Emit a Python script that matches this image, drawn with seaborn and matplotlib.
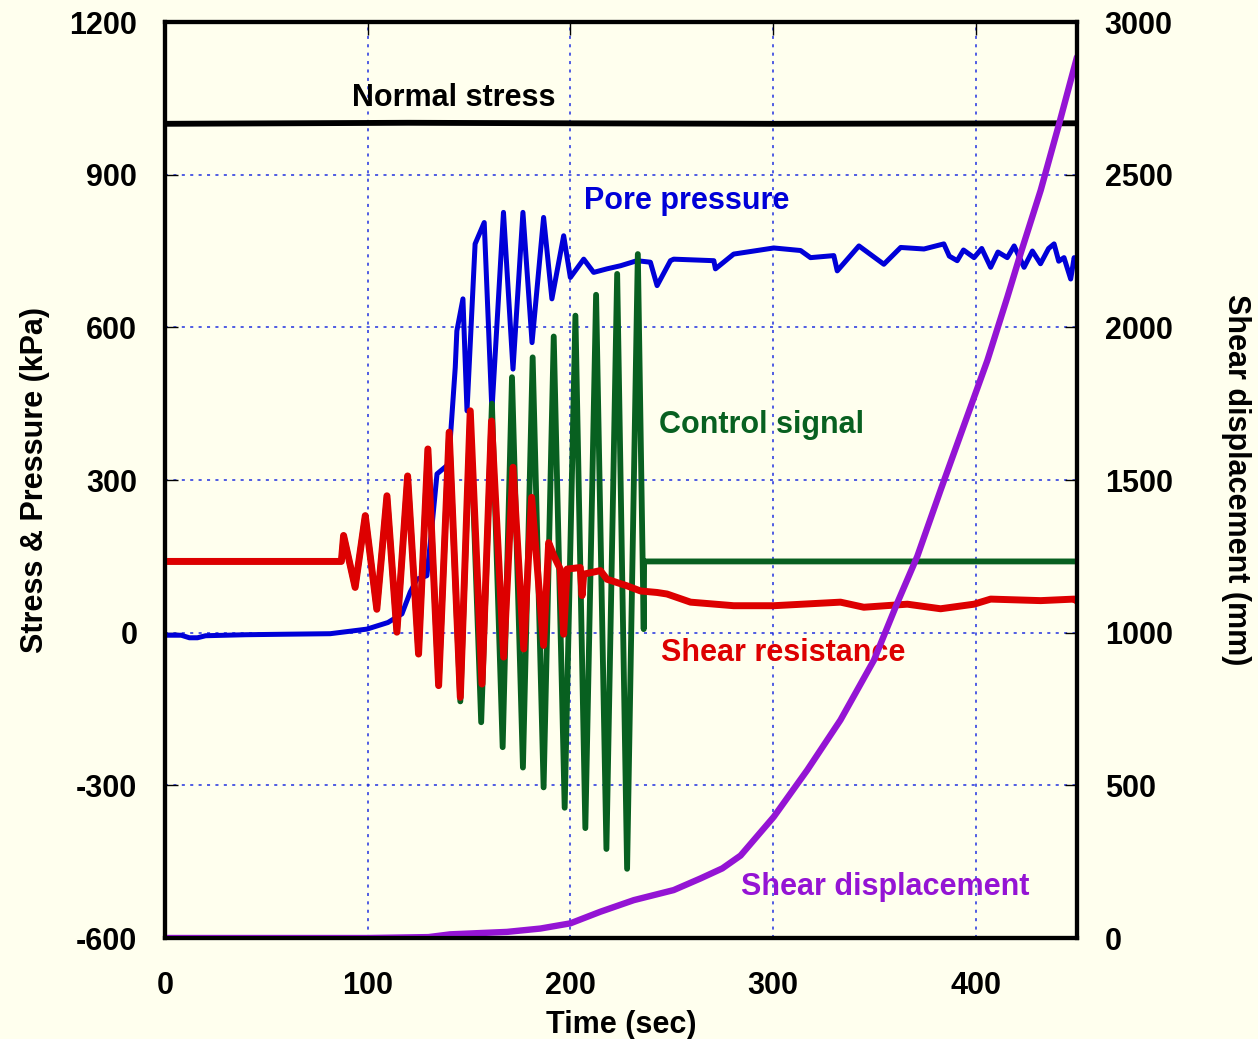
import matplotlib
matplotlib.use('Agg')
import matplotlib.pyplot as plt
import seaborn as sns

# values
normal_t = [0, 60, 120, 200, 300, 450]
normal_v = [1000, 1001, 1002, 1001, 1000, 1001]

pore_t = [0, 8, 12, 16, 20, 40, 60, 81.5, 99.6, 110, 116.9, 121, 124.3, 129.2, 131.5, 134.2,
          139.9, 143.2, 144, 147, 149, 153, 157.5, 161.3, 167, 171.7, 176.6, 181.1, 186.8,
          190.9, 196.7, 200, 206.6, 211.5, 218.1, 224.7, 232.9, 239.5, 242.8, 249.4,
          251, 270.8, 271.6, 280.6, 300.4, 313.6, 318.5, 330, 331.7, 342.4, 354.7, 363,
          374.5, 384.3, 387, 390.9, 394, 399.2, 403, 407.4, 411, 415.6, 419, 423.9, 428,
          432, 436, 438.7, 441, 443.6, 446.9, 448.6, 450]
pore_v = [-5, -5, -10, -10, -6, -4, -3, -2, 7, 20, 37, 80, 105, 112, 200, 312,
          331, 521, 593, 656, 436, 764, 806, 436, 826, 518, 826, 570, 816,
          656, 780, 698, 734, 708, 715, 721, 731, 728, 682, 731,
          734, 731, 715, 744, 756, 751, 737, 741, 711, 760, 724, 757,
          754, 764, 740, 731, 752, 737, 755, 718, 748, 737, 760, 718, 750,
          725, 755, 764, 730, 737, 695, 737, 720]

control_t = [0, 87, 88.1, 93.8, 98.8, 104.5, 109.5, 114.4, 119.7, 125.1, 129.7, 135, 140.2,
             145.7, 150.6, 156, 161.3, 166.6, 171.2, 176.6, 181.4, 186.8, 191.8, 197.2,
             202.5, 207.4, 212.7, 217.8, 223.1, 228, 233.3, 236.2, 236.4, 450]
control_v = [140, 140, 191, 89, 230, 46, 269, 1, 308, -42, 361, -104, 394,
             -135, 430, -176, 450, -225, 502, -265, 541, -304, 582, -344,
             623, -384, 664, -425, 705, -464, 744, 7, 140, 140]

shear_t = [0, 87, 88.1, 93.8, 98.8, 104.5, 109.5, 114.4, 119.7, 125.1, 129.7, 135, 140.2,
           145.7, 150.6, 156.4, 161.1, 167.1, 171.7, 177, 180.9, 186.8, 189.3, 192, 195,
           196.7, 198.4, 204.9, 205.8, 206.6, 214.8, 218.1, 228, 234.6, 242.8, 247.7, 259.3,
           280.6, 300.4, 333.3, 344.8, 366.3, 382.7, 399.2, 407.4, 432.1, 448.6, 450]
shear_v = [140, 140, 191, 89, 230, 46, 269, 1, 308, -42, 361, -104, 394,
           -127, 436, -101, 416, -48, 325, -32, 266, -25, 177, 150, 125,
           -3, 125, 128, 73, 115, 122, 105, 92, 82, 79, 76, 60,
           53, 53, 60, 50, 56, 47, 56, 66, 63, 66, 62]

disp_t = [0, 100, 130, 140.7, 168.7, 185.2, 200, 214.8, 231.3, 251, 264.2, 275, 284, 300.4,
          316.9, 333.3, 349.8, 361.3, 371.2, 382.7, 405.8, 415.6, 422.2, 432.1, 441, 449.4, 450]
disp_v = [0, 0, 3, 12, 20, 31, 48, 86, 124, 157, 195, 228, 270, 397,
          550, 714, 910, 1097, 1250, 1467, 1892, 2098, 2242, 2449, 2662, 2870, 2885]

x_ticks = [0, 100, 200, 300, 400]
left_ticks = [-600, -300, 0, 300, 600, 900, 1200]
right_ticks = [0, 500, 1000, 1500, 2000, 2500, 3000]

BG = '#FFFFEE'
BLUE = '#0000D8'
GREEN = '#086020'
RED = '#DD0000'
PURPLE = '#9414D4'
GRID = '#2030E0'

sns.set_style('white')
plt.rcParams['font.family'] = ['Liberation Sans', 'DejaVu Sans']
plt.rcParams['font.weight'] = 'bold'
plt.rcParams['font.size'] = 22
plt.rcParams['axes.unicode_minus'] = False
for key in ('text.color', 'axes.labelcolor', 'xtick.color', 'ytick.color'):
    plt.rcParams[key] = 'black'

fig = plt.figure(figsize=(12.58, 10.39), dpi=100, facecolor=BG)
ax = fig.add_axes([0.1312, 0.0972, 0.7249, 0.8816])
ax.set_facecolor(BG)
ax.set_axisbelow(True)

line_kw = dict(sort=False, estimator=None, solid_joinstyle='round', solid_capstyle='round')
sns.lineplot(x=pore_t, y=pore_v, ax=ax, color=BLUE, linewidth=3.6, zorder=2, **line_kw)
sns.lineplot(x=control_t, y=control_v, ax=ax, color=GREEN, linewidth=4.2, zorder=3, **line_kw)
sns.lineplot(x=shear_t, y=shear_v, ax=ax, color=RED, linewidth=5.0, zorder=4, **line_kw)
sns.lineplot(x=normal_t, y=normal_v, ax=ax, color='black', linewidth=4.2, zorder=5, **line_kw)

ax.set_xlim(0, 450)
ax.set_ylim(-600, 1200)
ax.set_xticks(x_ticks)
ax.set_yticks(left_ticks)
ax.grid(True, color=GRID, linestyle=(0, (2, 3.5)), linewidth=1.1)
ax.tick_params(direction='in', length=9, width=1, top=True, pad=20, labelsize=22)
ax.tick_params(axis='x', pad=24)
ax.set_xlabel('Time (sec)', fontsize=22, fontweight='bold', labelpad=6)
ax.set_ylabel('Stress & Pressure (kPa)', fontsize=22, fontweight='bold', labelpad=14)

ax2 = ax.twinx()
sns.lineplot(x=disp_t, y=disp_v, ax=ax2, color=PURPLE, linewidth=4.6, **line_kw)
ax2.set_ylim(0, 3000)
ax2.set_yticks(right_ticks)
ax2.tick_params(direction='in', length=9, width=1, pad=20, labelsize=22)
ax2.set_ylabel('Shear displacement (mm)', fontsize=22, fontweight='bold', rotation=270, labelpad=56)

for a in (ax, ax2):
    for sp in a.spines.values():
        sp.set_linewidth(3)
        sp.set_color('black')

ax.text(92.3, 1051, 'Normal stress', color='black', fontsize=22, fontweight='bold', ha='left', va='center')
ax.text(206.9, 849, 'Pore pressure', color=BLUE, fontsize=22, fontweight='bold', ha='left', va='center')
ax.text(243.5, 409, 'Control signal', color=GREEN, fontsize=22, fontweight='bold', ha='left', va='center')
ax.text(244.9, -39, 'Shear resistance', color=RED, fontsize=22, fontweight='bold', ha='left', va='center')
ax.text(284.4, -499, 'Shear displacement', color=PURPLE, fontsize=22, fontweight='bold', ha='left', va='center')

fig.savefig('out.png', dpi=100, facecolor=BG)
